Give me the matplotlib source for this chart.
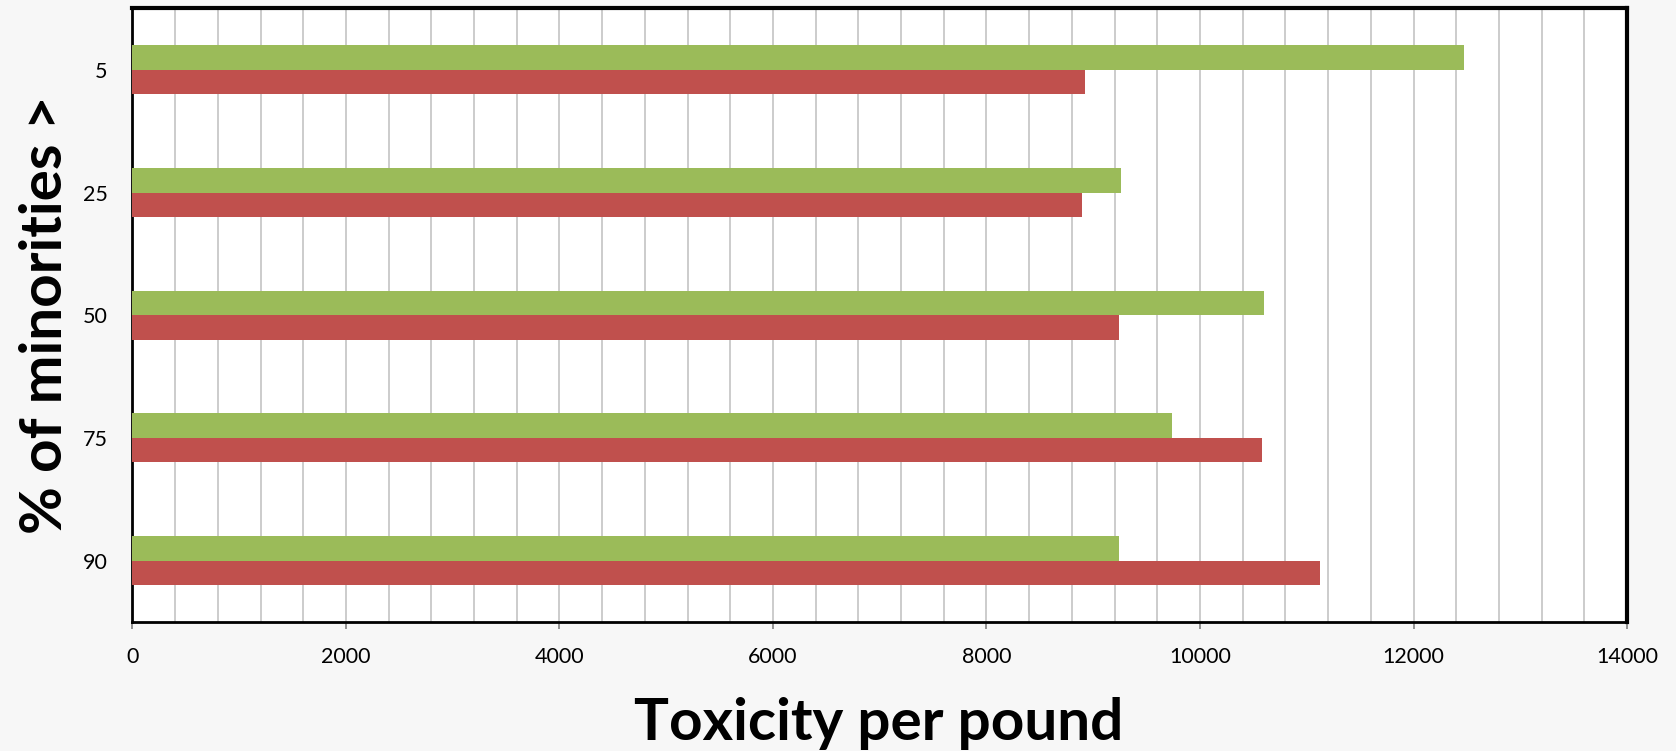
import matplotlib.pyplot as plt
import numpy as np

plt.rcParams["font.family"] = ["Lato", "DejaVu Sans"]

categories = ["5", "25", "50", "75", "90"]
green_values = [12470, 9260, 10600, 9740, 9240]
red_values = [8920, 8890, 9240, 10580, 11120]

x_major = [0, 2000, 4000, 6000, 8000, 10000, 12000, 14000]

fig = plt.figure(figsize=(16.76, 7.51), dpi=100)
fig.patch.set_facecolor("#f7f7f7")
ax = fig.add_axes([0.079, 0.1718, 0.8918, 0.8169])
ax.set_facecolor("white")

pos = np.arange(len(categories))
h = 0.2
ax.barh(pos - h / 2, green_values, height=h, color="#9BBB59", zorder=3)
ax.barh(pos + h / 2, red_values, height=h, color="#C0504D", zorder=3)

ax.set_xlim(0, 14000)
ax.set_ylim(len(categories) - 0.5, -0.5)
ax.set_yticks(pos)
ax.set_yticklabels(categories)
ax.set_xticks(x_major)
ax.set_xticks(np.arange(0, 14001, 400), minor=True)

# vertical gridlines every 400
ax.grid(axis="x", which="both", color="#bfbfbf", linewidth=1.1, zorder=0)

ax.tick_params(axis="x", which="major", length=5, width=1.2, color="#808080",
               direction="out", pad=13, labelsize=15.5)
ax.tick_params(axis="x", which="minor", length=0)
ax.tick_params(axis="y", length=0, pad=18, labelsize=15.5)

for side in ["top", "right"]:
    ax.spines[side].set_linewidth(3)
    ax.spines[side].set_color("black")
for side in ["left", "bottom"]:
    ax.spines[side].set_linewidth(2)
    ax.spines[side].set_color("black")

ax.set_xlabel("Toxicity per pound", fontsize=42, fontweight="bold", va="center")
ax.xaxis.set_label_coords(0.499, -0.165)
ax.set_ylabel("% of minorities >", fontsize=42, fontweight="bold", va="center")
ax.yaxis.set_label_coords(-0.058, 0.5)

fig.savefig("out.png", dpi=100, facecolor=fig.get_facecolor())
